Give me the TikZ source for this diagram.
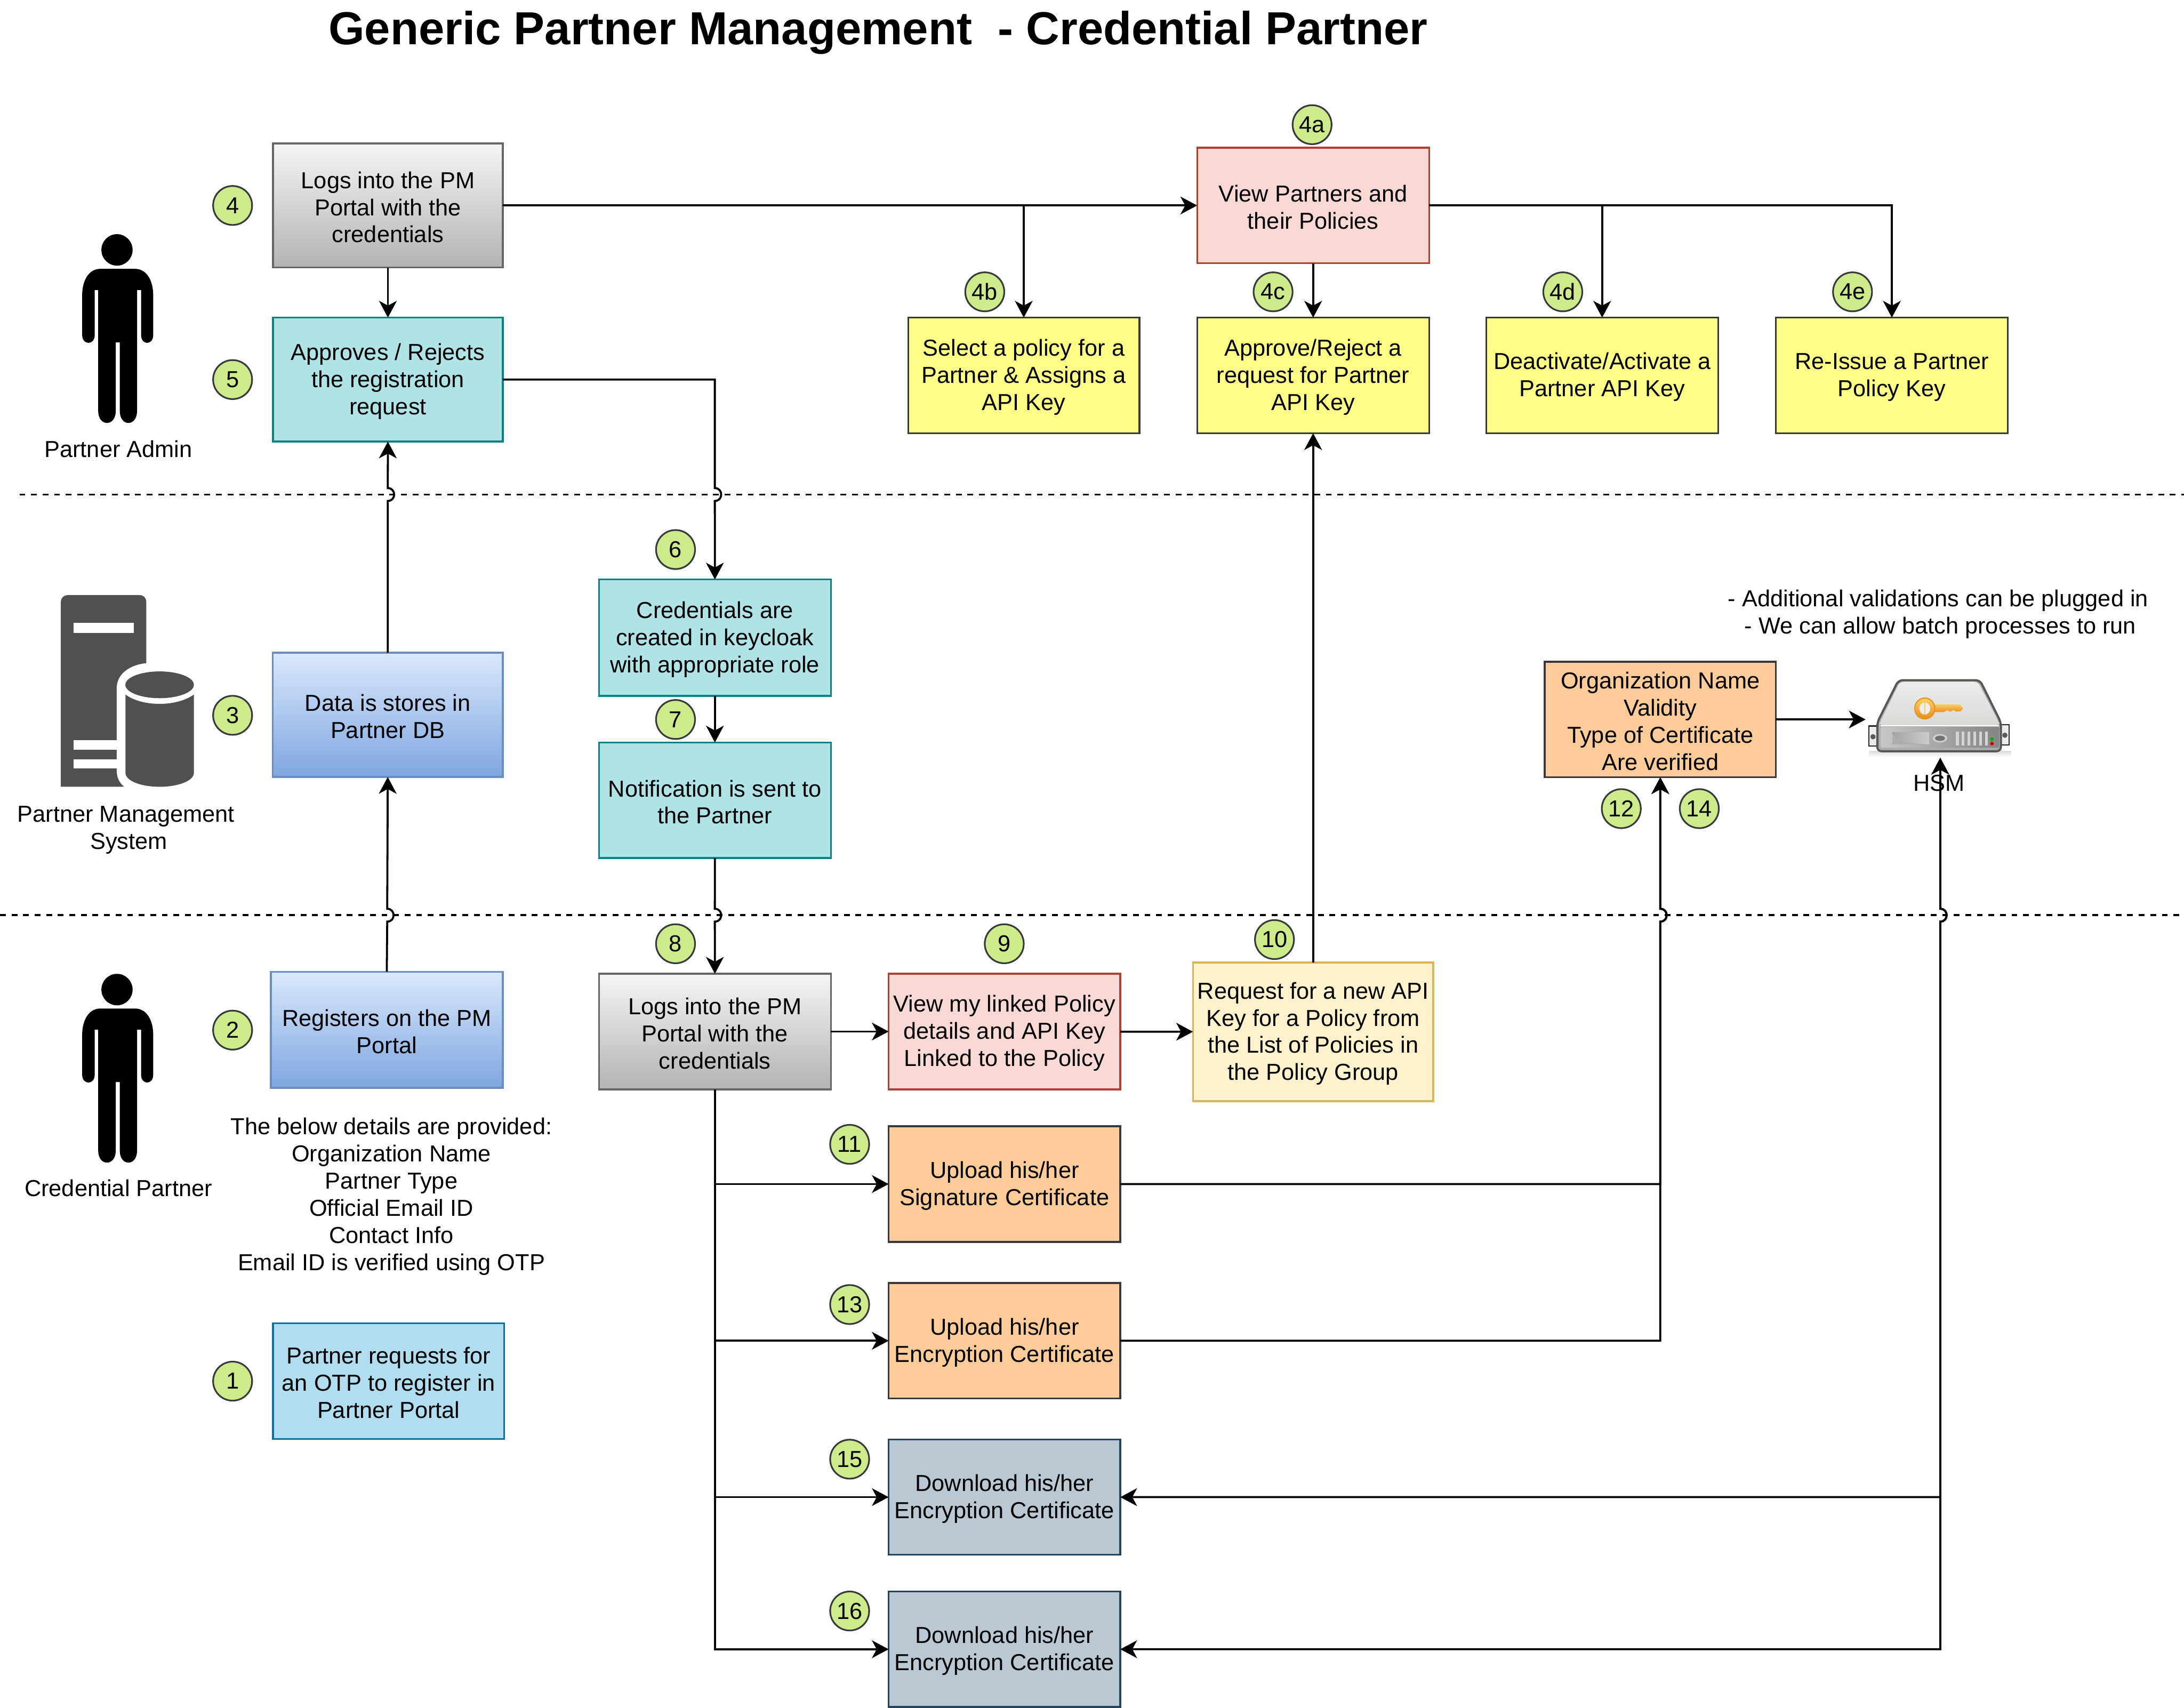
\documentclass[tikz,border=0pt]{standalone}
\usepackage{fontspec}
\setmainfont{Liberation Sans}
\usetikzlibrary{arrows.meta}
\definecolor{badgefill}{HTML}{CDEB8B}
\definecolor{badgeline}{HTML}{36393D}
\definecolor{tealfill}{HTML}{B0E3E6}
\definecolor{tealline}{HTML}{0E8088}
\definecolor{blueline}{HTML}{6C8EBF}
\definecolor{bluetop}{HTML}{DAE8FC}
\definecolor{bluebot}{HTML}{7EA6E0}
\definecolor{graytop}{HTML}{F5F5F5}
\definecolor{graybot}{HTML}{B3B3B3}
\definecolor{grayline}{HTML}{666666}
\definecolor{redfill}{HTML}{FAD9D5}
\definecolor{redline}{HTML}{AE4132}
\definecolor{yelfill}{HTML}{FFFF88}
\definecolor{creamfill}{HTML}{FFF2CC}
\definecolor{creamline}{HTML}{D6B656}
\definecolor{orfill}{HTML}{FFCC99}
\definecolor{slatefill}{HTML}{BAC8D3}
\definecolor{slateline}{HTML}{23445D}
\definecolor{skyfill}{HTML}{B1DDF0}
\definecolor{skyline}{HTML}{10739E}
\definecolor{iconfill}{HTML}{505050}
\definecolor{hsmline}{HTML}{555753}
\definecolor{keylight}{HTML}{FBCF63}
\definecolor{keydark}{HTML}{E98F1E}
\definecolor{facetop}{HTML}{ECEDEB}
\definecolor{facebot}{HTML}{D8DAD6}
\newcommand{\bx}[7]{\node[boxbase,#5,minimum width={(#3-#1)*1pt},minimum height={(#4-#2)*1pt}] (#6) at ({(#1+#3)/2},{(#2+#4)/2}) {\rule{0pt}{14.5pt}#7};}
\newcommand{\jd}[2]{-- (#1,#2-4.6) .. controls (#1+6.1,#2-4.6) and (#1+6.1,#2+4.6) .. (#1,#2+4.6)}
\newcommand{\ju}[2]{-- (#1,#2+4.6) .. controls (#1+6.1,#2+4.6) and (#1+6.1,#2-4.6) .. (#1,#2-4.6)}
\tikzset{
  txt/.style={font=\fontsize{16.6}{19.5}\selectfont,align=center,text=black,inner sep=0pt,outer sep=0pt},
  boxbase/.style={txt,rectangle,draw,line width=1.3pt},
  grayb/.style={draw=grayline,top color=graytop,bottom color=graybot,middle color=graytop!50!graybot},
  blueb/.style={draw=blueline,top color=bluetop,bottom color=bluebot,middle color=bluetop!50!bluebot},
  tealb/.style={draw=tealline,fill=tealfill},
  redb/.style={draw=redline,fill=redfill},
  yelb/.style={draw=badgeline,fill=yelfill},
  creamb/.style={draw=creamline,fill=creamfill},
  orb/.style={draw=badgeline,fill=orfill},
  slateb/.style={draw=slateline,fill=slatefill},
  skyb/.style={draw=skyline,fill=skyfill},
  badge/.style={txt,circle,draw=badgeline,fill=badgefill,line width=1.2pt,minimum size=28pt},
  conn/.style={line width=1.45pt,draw=black,-{Stealth[length=12pt,width=12.7pt,inset=3.4pt]}},
  connboth/.style={line width=1.45pt,draw=black,{Stealth[length=12pt,width=12.7pt,inset=3.4pt]}-{Stealth[length=12pt,width=12.7pt,inset=3.4pt]}},
  sepline/.style={line width=1.4pt,dash pattern=on 4.15pt off 4.15pt,draw=black},
  person/.pic={
    \fill[black] (84,179.4) ellipse[x radius=11.2,y radius=11.3];
    \fill[black] (72,193) -- (97,193) .. controls (105,193) and (110,201) .. (110,212) -- (110,240.5)
      .. controls (110,248) and (101.3,248) .. (101.3,240.5) -- (101.3,208.2) -- (98.4,208.2) -- (98.4,295)
      .. controls (98.4,306.5) and (86,306.5) .. (86,295) -- (86,245.8) -- (83.1,245.8) -- (83.1,295)
      .. controls (83.1,306.5) and (70.5,306.5) .. (70.5,295) -- (70.5,208.2) -- (68,208.2) -- (68,240.5)
      .. controls (68,248) and (59,248) .. (59,240.5) -- (59,212) .. controls (59,201) and (64,193) .. (72,193) -- cycle;
  }
}
\begin{document}
\begin{tikzpicture}[x=1pt,y=-1pt]
\useasboundingbox (0,0) rectangle (1568,1225.9);
\fill[white] (0,0) rectangle (1568,1225.9);

% swim-lane separators
\coordinate (s1a) at (14,355); \coordinate (s1b) at (1568,355);
\coordinate (s2a) at (0,657); \coordinate (s2b) at (1568,657);
\draw[sepline] (s1a) -- (s1b);
\draw[sepline] (s2a) -- (s2b);

% title
\node[inner sep=0pt,font=\fontsize{33.26}{38}\selectfont\bfseries] (title) at (630.5,23.5) {Generic Partner Management\ \ - Credential Partner};

% persons
\pic {person};
\begin{scope}[shift={(0,531)}]\pic {person};\end{scope}

% server and database icon
\fill[iconfill] (43.7,564.8) -- (43.7,432.2) .. controls (43.7,429) and (46,427.2) .. (48.7,427.2) -- (100,427.2)
   .. controls (103,427.2) and (105,429) .. (105,432.2) -- (105,564.8) -- cycle;
\fill[white] (53,447.3) rectangle (96.2,454.3);
\fill[white] (53,531.4) rectangle (85,538.2);
\fill[white] (53,545) rectangle (85,551.7);
\fill[white] (83.8,553) .. controls (83.8,558) and (85.5,562) .. (90,565.5) -- (145,565.5) -- (145,476) -- (106,476)
   .. controls (93,477) and (83.8,484) .. (83.8,494) -- cycle;
\fill[iconfill] (114.6,491.6) ellipse[x radius=24.6,y radius=9.6];
\fill[iconfill] (90.1,498.6) .. controls (96,503) and (105,505.3) .. (114.6,505.3) .. controls (124,505.3) and (133,503) .. (139.2,498.6)
   -- (139.2,554.8) .. controls (139.2,560.5) and (128,564.8) .. (114.6,564.8) .. controls (101,564.8) and (90.1,560.5) .. (90.1,554.8) -- cycle;

% boxes
\bx{196}{103}{361}{192}{grayb}{login1}{Logs into the PM\\Portal with the\\credentials}
\bx{196}{228}{361}{317}{tealb}{approves}{Approves / Rejects\\the registration\\request}
\bx{195.8}{468.6}{361}{557.8}{blueb}{datadb}{Data is stores in\\Partner DB}
\bx{194.4}{697.6}{361}{781}{blueb}{register}{Registers on the PM\\Portal}
\bx{196}{950}{362}{1033}{skyb}{otp}{Partner requests for\\an OTP to register in\\Partner Portal}
\bx{859.5}{106}{1026}{189}{redb}{viewp}{View Partners and\\their Policies}
\bx{652}{228}{818}{311}{yelb}{selectp}{Select a policy for a\\Partner \& Assigns a\\API Key}
\bx{859.5}{228}{1026}{311}{yelb}{approvek}{Approve/Reject a\\request for Partner\\API Key}
\bx{1067}{228}{1233.5}{311}{yelb}{deact}{Deactivate/Activate a\\Partner API Key}
\bx{1275}{228}{1441.5}{311}{yelb}{reissue}{Re-Issue a Partner\\Policy Key}
\bx{430}{416}{596.5}{499.5}{tealb}{creds}{Credentials are\\created in keycloak\\with appropriate role}
\bx{430}{533}{596.5}{616}{tealb}{notify}{Notification is sent to\\the Partner}
\bx{430}{699}{596.5}{782}{grayb}{login2}{Logs into the PM\\Portal with the\\credentials}
\bx{638}{699}{804.3}{782}{redb}{viewl}{View my linked Policy\\details and API Key\\Linked to the Policy}
\bx{856.5}{691}{1029}{790.5}{creamb}{reqkey}{Request for a new API\\Key for a Policy from\\the List of Policies in\\the Policy Group}
\bx{638}{808.5}{804.3}{891.5}{orb}{upsig}{Upload his/her\\Signature Certificate}
\bx{638}{921}{804.3}{1004}{orb}{upenc}{Upload his/her\\Encryption Certificate}
\bx{638}{1033.5}{804.3}{1116}{slateb}{dla}{Download his/her\\Encryption Certificate}
\bx{638}{1142.5}{804.3}{1225.4}{slateb}{dlb}{Download his/her\\Encryption Certificate}
\bx{1109}{475}{1275}{558}{orb}{orgv}{Organization Name\\Validity\\Type of Certificate\\Are verified}

% HSM icon (invisible node carries the anchors)
\node[rectangle,inner sep=0pt,outer sep=0pt,minimum width=107.2pt,minimum height=55pt] (hsm) at (1393,516.5) {};
\shade[top color=black!14,bottom color=white] (1342,539) rectangle (1444,543.5);
\draw[black!85,line width=.9pt,fill=white!92!black] (1341.7,521.2) rectangle (1348,535.5);
\draw[black!85,line width=.9pt,fill=white!92!black] (1436.5,520.3) rectangle (1442.5,534.8);
\fill[gray!70!black] (1344.7,528.9) circle[radius=1.9];
\fill[gray!70!black] (1439.4,527.8) circle[radius=1.9];
\draw[hsmline,line width=1.5pt,fill=gray!65,rounded corners=3pt] (1363,488.3) -- (1421.5,488.3) -- (1436.5,518.5) -- (1436.5,539.3) -- (1347.8,539.3) -- (1347.8,518.5) -- cycle;
\shade[top color=facetop,bottom color=facebot,rounded corners=3pt] (1364,489.4) -- (1420,489.4) -- (1435.3,519) -- (1435.3,521) -- (1349.5,521) -- (1349.5,519) -- cycle;
\draw[white,line width=.9pt] (1350,521) -- (1435,521);
\shade[left color=black!22,right color=black!48,rounded corners=1pt] (1350.4,521.8) rectangle (1435.3,536.8);
\shade[left color=black!36,right color=black!20] (1358.3,525.5) -- (1385,525.5) -- (1385,534.4) .. controls (1372,534) and (1362,532) .. (1358.8,528) -- cycle;
\fill[black!32] (1358.6,528.5) .. controls (1362,532) and (1372,534) .. (1385,534.4) -- (1358.6,534.4) -- cycle;
\fill[black!18] (1392.8,530) ellipse[x radius=5.2,y radius=3];
\fill[black!55] (1392.8,530) ellipse[x radius=3.6,y radius=1.9];
\foreach \k in {0,...,5} {\fill[black!17] ({1404.3+\k*4.15},525.2) rectangle ({1406.3+\k*4.15},535.2);}
\fill[green!70!black] (1430.1,530.6) circle[radius=1.3];
\fill[red!80!black] (1430.1,533.8) circle[radius=1.3];
% key
\shade[top color=keylight,bottom color=keydark] (1388.5,505.6) -- (1407,505.6) -- (1409.5,508.4) -- (1407.5,510.7) -- (1404,510.7) -- (1402.5,509.8) -- (1400,510.9) -- (1398,509.8) -- (1395.5,511.2) -- (1393,511.2) -- (1391.5,511.2) -- (1388.5,511.2) -- cycle;
\fill[keydark] (1381.9,508.6) ellipse[x radius=7.6,y radius=7.9];
\shade[top color=keylight,bottom color=keydark] (1381.9,508.6) ellipse[x radius=6.8,y radius=7.1];
\fill[facetop] (1381.9,508.6) ellipse[x radius=3.9,y radius=4.4];
\fill[keylight] (1381.5,504.2) rectangle (1382.5,513);

% connectors
\draw[conn] (login1) -- (approves);
\draw[conn] (login1.east) -- (viewp.west);
\draw[conn] (login1.east) -| (selectp.north);
\draw[conn] (viewp.south) -- (approvek.north);
\draw[conn] (viewp.east) -| (deact.north);
\draw[conn] (viewp.east) -| (reissue.north);
\draw[conn] (approves.east) -- (513.2,272.5) \jd{513.2}{355} -- (creds.north);
\draw[conn] (datadb.north) \ju{278.4}{355} -- (approves.south);
\draw[conn] (register.north) \ju{278}{657} -- (datadb.south);
\draw[conn] (creds) -- (notify);
\draw[conn] (notify.south) \jd{513.2}{657} -- (login2.north);
\draw[conn] (login2) -- (viewl);
\draw[conn] (viewl) -- (reqkey);
\draw[conn] (reqkey.north) -- (approvek.south);
\draw[conn] (login2.south) |- (upsig.west);
\draw[conn] (login2.south) |- (upenc.west);
\draw[conn] (login2.south) |- (dla.west);
\draw[conn] (login2.south) |- (dlb.west);
\draw[conn] (upsig.east) -- (1192,850) \ju{1192}{657} -- (orgv.south);
\draw[conn] (upenc.east) -- (1192,962.5) \ju{1192}{657} -- (orgv.south);
\draw[conn] (orgv.east) -- (hsm.west);
\draw[connboth] (hsm.south) \jd{1393}{657} |- (dla.east);
\draw[connboth] (hsm.south) \jd{1393}{657} |- (dlb.east);

% badges
\foreach \nm/\x/\y/\t in {b1/167/991.5/1,b2/167/739.5/2,b3/167/513.5/3,b4/167/147.5/4,b5/167/272.5/5,b6/485/394.5/6,b7/485/516.5/7,b8/485/677.5/8,b9/721/677.5/9,b10/915/674.5/10,b11/610/821.5/11,b12/1164/580.5/12,b13/610/936.5/13,b14/1220/580.5/14,b15/610/1047.5/15,b16/610/1156.5/16,b4a/942/89.5/4a,b4b/707/209.5/4b,b4c/914/209.5/4c,b4d/1122/209.5/4d,b4e/1330/209.5/4e}
  {\node[badge] (\nm) at (\x,\y) {\t};}

% free labels
\node[txt] (adminlbl) at (85,322.5) {Partner Admin};
\node[txt] (credlbl) at (85,853) {Credential Partner};
\node[txt] (pmslbl) at (90.5,596) {Partner Management\\\hspace*{4pt}System};
\node[txt] (details) at (281,859) {The below details are provided:\\Organization Name\\Partner Type\\Official Email ID\\Contact Info\\Email ID is verified using OTP};
\node[txt] (notes) at (1391.5,441) {- Additional validations can be plugged in\\\hspace*{3pt}- We can allow batch processes to run};
\node[txt] (hsmlbl) at (1392,562) {HSM};
\end{tikzpicture}
\end{document}
